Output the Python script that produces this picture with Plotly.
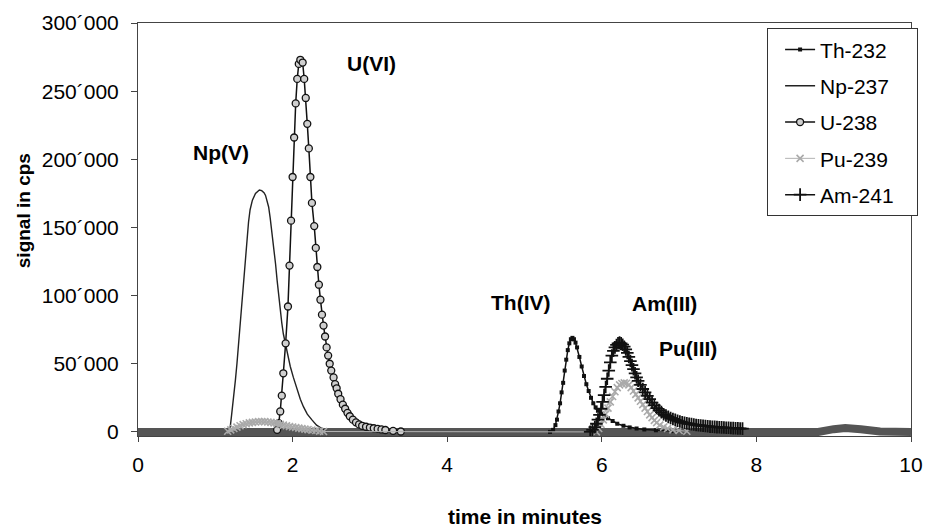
import plotly.graph_objects as go

# ---------------- data ----------------
th_t = [5.33, 5.37, 5.40, 5.42, 5.44, 5.46, 5.48, 5.50, 5.52, 5.54, 5.56, 5.58, 5.60, 5.62,
        5.64, 5.66, 5.68, 5.71, 5.74, 5.77, 5.80, 5.83, 5.86, 5.89, 5.92, 5.95, 5.99, 6.03,
        6.08, 6.14, 6.20, 6.28, 6.36, 6.45, 6.55, 6.70, 6.90]
th_v = [0, 1500, 5000, 9000, 15000, 21000, 29000, 36000, 45000, 53000, 60000, 65000, 68000, 69000,
        68000, 65500, 62000, 55000, 48000, 41000, 35000, 30000, 25000, 21000, 18000, 15500, 13500, 12000,
        10000, 8000, 6000, 4500, 3300, 2500, 1800, 1200, 600]

np_t = [1.15, 1.19, 1.21, 1.24, 1.26, 1.28, 1.30, 1.32, 1.35, 1.37, 1.39, 1.41, 1.43, 1.45, 1.48,
        1.52, 1.55, 1.57, 1.60, 1.63, 1.65, 1.67, 1.69, 1.71, 1.73, 1.75, 1.78, 1.80, 1.82, 1.84,
        1.86, 1.88, 1.91, 1.94, 1.97, 2.01, 2.06, 2.10, 2.14, 2.19, 2.25, 2.31, 2.38, 2.44]
np_v = [0, 2000, 12000, 26000, 38000, 50000, 64000, 80000, 100000, 114000, 129000, 143000, 154000, 163000, 170000,
        175000, 177000, 177500, 177000, 175500, 173500, 170000, 165000, 157000, 148000, 138000, 123000, 111000, 99000, 89000,
        80000, 72000, 64000, 56000, 48000, 40000, 31000, 24000, 18500, 13000, 8800, 5000, 2500, 0]

u_t = [1.80, 1.82, 1.84, 1.86, 1.88, 1.91, 1.94, 1.96, 1.98, 2.00, 2.02, 2.04, 2.06, 2.08, 2.10,
       2.13, 2.15, 2.17, 2.19, 2.21, 2.23, 2.25, 2.28, 2.30, 2.32, 2.34, 2.36, 2.38, 2.40, 2.42,
       2.44, 2.46, 2.48, 2.50, 2.53, 2.55, 2.57, 2.59, 2.62, 2.65, 2.68, 2.71, 2.74, 2.78, 2.82,
       2.86, 2.90, 2.95, 3.00, 3.05, 3.10, 3.15, 3.20, 3.30, 3.40]
u_v = [1500, 6400, 15000, 26600, 43000, 65000, 92000, 122000, 155000, 187000, 216000, 241000, 259000, 270000, 273000,
       271000, 259000, 245000, 226000, 208000, 187000, 168000, 151000, 135000, 121000, 108000, 97000, 86000, 78000, 70000,
       62000, 56000, 50000, 45000, 40000, 35000, 32000, 28000, 24000, 20000, 17000, 14000, 11500, 9000, 7000,
       5500, 4500, 3800, 3200, 2700, 2200, 1800, 1400, 800, 300]

pu_t = [1.16, 1.20, 1.24, 1.28, 1.32, 1.36, 1.40, 1.44, 1.48, 1.52, 1.56, 1.60, 1.64, 1.68, 1.72,
        1.76, 1.80, 1.84, 1.88, 1.92, 1.96, 2.00, 2.04, 2.08, 2.12, 2.16, 2.20, 2.25, 2.30, 2.35,
        2.40, 5.93, 5.96, 5.99, 6.02, 6.05, 6.08, 6.11, 6.14, 6.17, 6.20, 6.23, 6.26, 6.29, 6.32,
        6.35, 6.38, 6.41, 6.44, 6.47, 6.50, 6.53, 6.56, 6.59, 6.62, 6.65, 6.68, 6.71, 6.75, 6.80,
        6.85, 6.92, 7.00, 7.10]
pu_v = [500, 1500, 2500, 3500, 4500, 5300, 6000, 6600, 7000, 7300, 7500, 7600, 7500, 7300, 7000,
        6600, 6100, 5500, 5000, 4500, 4000, 3600, 3200, 2800, 2400, 2000, 1700, 1300, 1000, 600,
        300, 0, 2500, 5500, 8800, 13000, 17500, 22000, 26000, 29500, 32500, 34500, 35500, 36000, 35700,
        34500, 32500, 30000, 27500, 25000, 22500, 20000, 17500, 15000, 12500, 10500, 8500, 6800, 5000, 3500,
        2500, 1500, 1000, 500]

am_t = [5.85, 5.88, 5.91, 5.93, 5.95, 5.97, 5.99, 6.01, 6.03, 6.05, 6.07, 6.09, 6.11, 6.13, 6.15,
        6.17, 6.19, 6.21, 6.23, 6.25, 6.27, 6.29, 6.31, 6.33, 6.35, 6.37, 6.39, 6.41, 6.43, 6.45,
        6.47, 6.50, 6.53, 6.56, 6.59, 6.62, 6.65, 6.68, 6.71, 6.74, 6.77, 6.80, 6.83, 6.86, 6.89,
        6.92, 6.95, 6.98, 7.01, 7.04, 7.07, 7.10, 7.13, 7.16, 7.19, 7.22, 7.25, 7.28, 7.31, 7.34,
        7.37, 7.40, 7.43, 7.46, 7.49, 7.52, 7.55, 7.58, 7.61, 7.64, 7.67, 7.70, 7.73, 7.76, 7.79,
        7.82]
am_v = [0, 1500, 3500, 6000, 9000, 12500, 17000, 22000, 27000, 33000, 39000, 45000, 51000, 56000, 59500,
        62000, 63800, 65000, 65500, 65000, 64000, 62500, 60500, 58000, 55000, 52000, 49000, 46000, 43000, 40000,
        37500, 34500, 31500, 29000, 26500, 24000, 21500, 19500, 17500, 16000, 14500, 13000, 12000, 11000, 10200,
        9500, 8800, 8200, 7600, 7100, 6700, 6300, 6000, 5700, 5400, 5100, 4900, 4700, 4500, 4300,
        4100, 3900, 3800, 3700, 3500, 3400, 3300, 3200, 3100, 3000, 2900, 2800, 2700, 2600, 2500,
        2400]

# overlapping near-zero readings of all isotopes form the thick baseline band
base_t = [0.00, 8.80, 9.00, 9.15, 9.35, 9.60, 10.00]
base_v = [0, 0, 2000, 2800, 2000, 300, 0]

x_ticks = [0, 2, 4, 6, 8, 10]
y_ticks = [0, 50000, 100000, 150000, 200000, 250000, 300000]
y_tick_text = ["0", "50´000", "100´000", "150´000", "200´000", "250´000", "300´000"]

peak_labels = ["Np(V)", "U(VI)", "Th(IV)", "Am(III)", "Pu(III)"]
label_t = [1.08, 3.02, 4.95, 6.81, 7.12]
label_v = [205000, 270000, 95000, 94000, 61000]

FONT = "Liberation Sans, Arial, sans-serif"

W, H = 926, 528
L, R, T, B = 137.5, 15, 22.7, 91.9


def px_x(page_x):
    return (page_x - L) / (W - L - R)


def px_y(page_y):
    return (H - B - page_y) / (H - T - B)


fig = go.Figure()

fig.add_trace(go.Scatter(x=base_t, y=base_v, mode="lines",
                         line=dict(color="#555555", width=8),
                         showlegend=False, hoverinfo="skip"))

fig.add_trace(go.Scatter(x=th_t, y=th_v, name="Th-232\u00a0\u00a0\u00a0", mode="lines+markers",
                         line=dict(color="#111111", width=1.5),
                         marker=dict(symbol="square", size=4, color="#111111"),
                         legendgroup="a"))
fig.add_trace(go.Scatter(x=np_t, y=np_v, name="Np-237", mode="lines",
                         line=dict(color="#222222", width=1.4),
                         legendgroup="b"))
fig.add_trace(go.Scatter(x=u_t, y=u_v, name="U-238", mode="lines+markers",
                         line=dict(color="#111111", width=1.5),
                         marker=dict(symbol="circle", size=7, color="#cfcfcf",
                                     line=dict(color="#111111", width=1.3)),
                         legendgroup="c"))
fig.add_trace(go.Scatter(x=pu_t, y=pu_v, name="Pu-239", mode="lines+markers",
                         line=dict(color="#b3b3b3", width=1),
                         marker=dict(symbol="x-thin", size=7,
                                     line=dict(color="#aaaaaa", width=1.6)),
                         legendgroup="d"))
fig.add_trace(go.Scatter(x=am_t, y=am_v, name="Am-241\u00a0\u00a0\u00a0", mode="lines+markers",
                         line=dict(color="#111111", width=1.5),
                         marker=dict(symbol="cross-thin", size=9,
                                     line=dict(color="#111111", width=1.8)),
                         legendgroup="e"))

for txt, tx, vy in zip(peak_labels, label_t, label_v):
    fig.add_annotation(x=tx, y=vy, xref="x", yref="y", text="<b>%s</b>" % txt,
                       showarrow=False, xanchor="center", yanchor="middle",
                       font=dict(size=21, color="black", family=FONT))

fig.add_annotation(x=px_x(525), y=px_y(517), xref="paper", yref="paper",
                   xanchor="center", yanchor="middle",
                   text="<b>time in minutes</b>",
                   showarrow=False, font=dict(size=21, color="black", family=FONT))
fig.add_annotation(x=px_x(22.5), y=px_y(211), xref="paper", yref="paper",
                   xanchor="center", yanchor="middle",
                   text="<b>signal in cps</b>", textangle=-90,
                   showarrow=False, font=dict(size=19, color="black", family=FONT))

fig.update_layout(
    width=W, height=H, autosize=False,
    margin=dict(l=L, r=R, t=T, b=B, pad=0, autoexpand=False),
    paper_bgcolor="white", plot_bgcolor="white",
    font=dict(family=FONT, size=21, color="black"),
    showlegend=True,
    legend=dict(x=px_x(767), y=px_y(28),
                xanchor="left", yanchor="top",
                bgcolor="white", bordercolor="#333333", borderwidth=1,
                font=dict(size=21, family=FONT, color="black"),
                traceorder="grouped", tracegroupgap=6, itemwidth=30, indentation=12),
    xaxis=dict(range=[0, 10], tickvals=x_ticks, ticktext=[str(v) for v in x_ticks],
               automargin=False,
               showgrid=False, zeroline=False, showline=True, linecolor="#444444",
               linewidth=1, mirror=True, ticks="outside", ticklen=5, tickcolor="#444444",
               ticklabelstandoff=5, ticklabeloverflow="allow",
               tickfont=dict(size=21, family=FONT)),
    yaxis=dict(range=[-3000, 300000], tickvals=y_ticks, ticktext=y_tick_text,
               automargin=False,
               showgrid=False, zeroline=False, showline=True, linecolor="#444444",
               linewidth=1, mirror=True, ticks="outside", ticklen=6, tickcolor="#444444",
               ticklabelstandoff=8, ticklabeloverflow="allow",
               tickfont=dict(size=21, family=FONT)),
)

# remove the browser's default 8px body margin so the figure fills the window exactly
fig.write_html("out.html",
               config={"displayModeBar": False, "staticPlot": True},
               post_script="document.body.style.margin='0';"
                           "document.body.style.overflow='hidden';")
